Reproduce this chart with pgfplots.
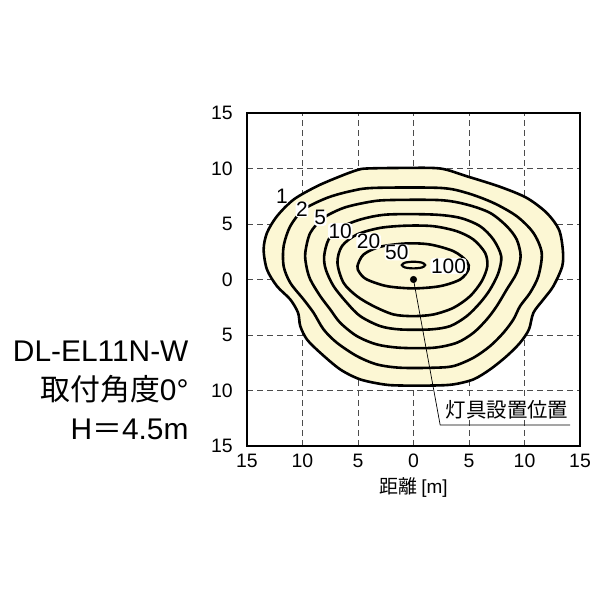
\documentclass[border=0pt]{standalone}
\usepackage{pgfplots}
\pgfplotsset{compat=1.18}
\usepackage{fontspec}
\setmainfont{Liberation Sans}
\newfontfamily\jp{Noto Sans CJK JP}
\definecolor{cream}{RGB}{252,247,212}
\tikzset{clab/.style={fill=white, inner sep=0.6bp, rounded corners=3bp,
                      font=\fontsize{21}{22}\selectfont}}

\begin{document}
\begin{tikzpicture}[x=1bp,y=1bp]
% page frame, axis box sits at (0,0)
\path[use as bounding box] (-247,-154) rectangle (353,446);
\begin{axis}[
    scale only axis, width=333bp, height=333bp,
    xmin=-15, xmax=15, ymin=-15, ymax=15,
    xtick={-15,-10,...,15}, ytick={-15,-10,...,15},
    xticklabels={15,10,5,0,5,10,15},
    yticklabels={15,10,5,0,5,10,15},
    major tick length=0pt,
    grid=major,
    grid style={dash pattern=on 6bp off 4bp, black!70, line width=0.8bp},
    axis line style={line width=1.3bp},
    tick label style={font=\fontsize{19.5}{21}\selectfont, inner sep=0pt},
    xticklabel style={anchor=base, yshift=-22bp},
    yticklabel style={anchor=east, xshift=-14bp},
    xlabel={{\jp 距離}\hspace{4bp}[m]},
    xlabel style={at={(axis description cs:0.5,0)}, anchor=base, yshift=-47bp,
                  font=\fontsize{19}{20}\selectfont},
]
% 1 lx
\addplot[smooth cycle, fill=cream, draw=black, line width=2.6bp] coordinates {
(-4.2,10.0)(-1,10.05)(2.4,10.0)(4.8,9.3)(7.8,8.35)(10.2,7.35)(12,6)(13.1,4.5)
(13.45,2.7)(13.4,1.2)(12.6,-0.6)(11.7,-1.8)(10.8,-3)(10.4,-4.5)(9.6,-5.7)(8.4,-6.9)
(6.9,-8.1)(5.4,-9)(3.6,-9.45)(1.8,-9.55)(-1.2,-9.55)(-2.7,-9.45)(-4.8,-9)(-6.6,-8.1)
(-8.4,-6.6)(-9.6,-5.4)(-10.2,-4.2)(-10.4,-3)(-11.1,-1.8)(-12.3,-0.6)(-13.2,0.9)
(-13.5,2.7)(-13.2,4.2)(-12.3,5.7)(-10.8,7.2)(-8.7,8.4)(-6.6,9.3)(-5.1,9.85)};
% 2 lx
\addplot[smooth cycle, draw=black, line width=2.6bp] coordinates {
(-11.7,3.0)(-11.1,4.8)(-9.9,6.3)(-7.8,7.35)(-5.7,7.95)(-3.6,8.25)(2.4,8.25)(4.8,7.8)
(7.2,6.9)(9.3,5.7)(10.8,4.2)(11.55,2.4)(11.25,0.3)(10.5,-1.2)(9.6,-2.4)(9,-3.6)
(8.1,-4.8)(6.9,-6)(5.4,-7.05)(3.6,-7.8)(1.8,-7.95)(-1.2,-7.95)(-3.3,-7.65)(-5.1,-6.9)
(-6.9,-5.7)(-8.1,-4.5)(-9,-3)(-9.9,-1.8)(-11.1,-0.3)(-11.7,1.2)};
% 5 lx
\addplot[smooth cycle, draw=black, line width=2.6bp] coordinates {
(-9.75,2.4)(-9.3,4.2)(-8.1,5.55)(-6.3,6.45)(-4.2,6.95)(-2.4,7.15)(2.4,7.15)(4.8,6.75)
(6.9,6)(8.4,4.8)(9.3,3.6)(9.65,2.1)(9.3,0.6)(8.4,-0.9)(7.5,-2.4)(6.6,-3.6)(5.4,-4.8)
(3.9,-5.7)(1.8,-6.15)(-1.2,-6.15)(-3.3,-5.85)(-5.1,-5.1)(-6.6,-3.9)(-7.5,-2.7)
(-8.4,-1.5)(-9.3,0)(-9.65,1.2)};
% 10 lx
\addplot[smooth cycle, draw=black, line width=2.6bp] coordinates {
(-8.05,2.1)(-7.65,3.6)(-6.6,4.65)(-4.8,5.4)(-2.4,5.85)(1.8,5.85)(4.2,5.55)(6,4.8)
(7.2,3.6)(7.9,2.1)(7.65,0.6)(6.9,-0.9)(6,-2.1)(4.8,-3.3)(3.3,-4.2)(1.5,-4.5)
(-1.2,-4.5)(-3,-4.2)(-4.8,-3.3)(-6,-2.1)(-7.2,-0.6)(-7.9,0.9)};
% 20 lx
\addplot[smooth cycle, draw=black, line width=2.6bp] coordinates {
(-6.85,1.5)(-6.45,3)(-5.1,4.05)(-3,4.65)(-0.6,4.85)(1.8,4.8)(3.9,4.35)(5.4,3.6)
(6.45,2.4)(6.65,1.2)(6.15,-0.15)(5.1,-1.5)(3.6,-2.55)(1.8,-3.15)(0,-3.3)(-1.8,-3.15)
(-3.6,-2.4)(-5.1,-1.5)(-6.3,-0.3)};
% 50 lx
\addplot[smooth cycle, draw=black, line width=2.6bp] coordinates {
(-5.05,1.2)(-4.5,2.25)(-3,2.95)(-0.6,3.25)(1.5,3.15)(3.6,2.55)(4.8,1.65)(4.95,0.9)
(4.2,0)(2.4,-0.6)(0,-0.8)(-2.4,-0.6)(-4.2,0)(-4.85,0.6)};
% 100 lx
\addplot[smooth cycle, draw=black, line width=2.2bp] coordinates {
(1.05,1.3)(0.75,1.52)(0,1.6)(-0.75,1.52)(-1.05,1.3)(-0.75,1.08)(0,1.0)(0.75,1.08)};
% luminaire position
\addplot[black, line width=0.7bp] coordinates {(0,0)(2.4,-13.1)(14.1,-13.1)};
\addplot[only marks, mark=*, mark size=3.3bp, black] coordinates {(0,0)};
\node[anchor=base west, fill=white, inner sep=1bp, font=\jp\fontsize{20.5}{22}\selectfont]
  at (axis cs:2.8,-12.4) {灯具設置位置};
% contour labels
\node[clab] at (axis cs:-11.85,7.5) {1};
\node[clab] at (axis cs:-10.05,6.3) {2};
\node[clab] at (axis cs:-8.4,5.55) {5};
\node[clab] at (axis cs:-6.6,4.35) {10};
\node[clab] at (axis cs:-4.05,3.45) {20};
\node[clab] at (axis cs:-1.5,2.45) {50};
\node[clab] at (axis cs:3.15,1.2) {100};
\end{axis}
\node[anchor=base east, font=\fontsize{30}{34}\selectfont] at (-55,84) {DL-EL11N-W};
\node[anchor=base east, font=\fontsize{30}{34}\selectfont] at (-55,45) {{\jp 取付角度}0°};
\node[anchor=base east, font=\fontsize{30}{34}\selectfont] at (-55,6) {H{\jp ＝}4.5m};
\end{tikzpicture}
\end{document}
